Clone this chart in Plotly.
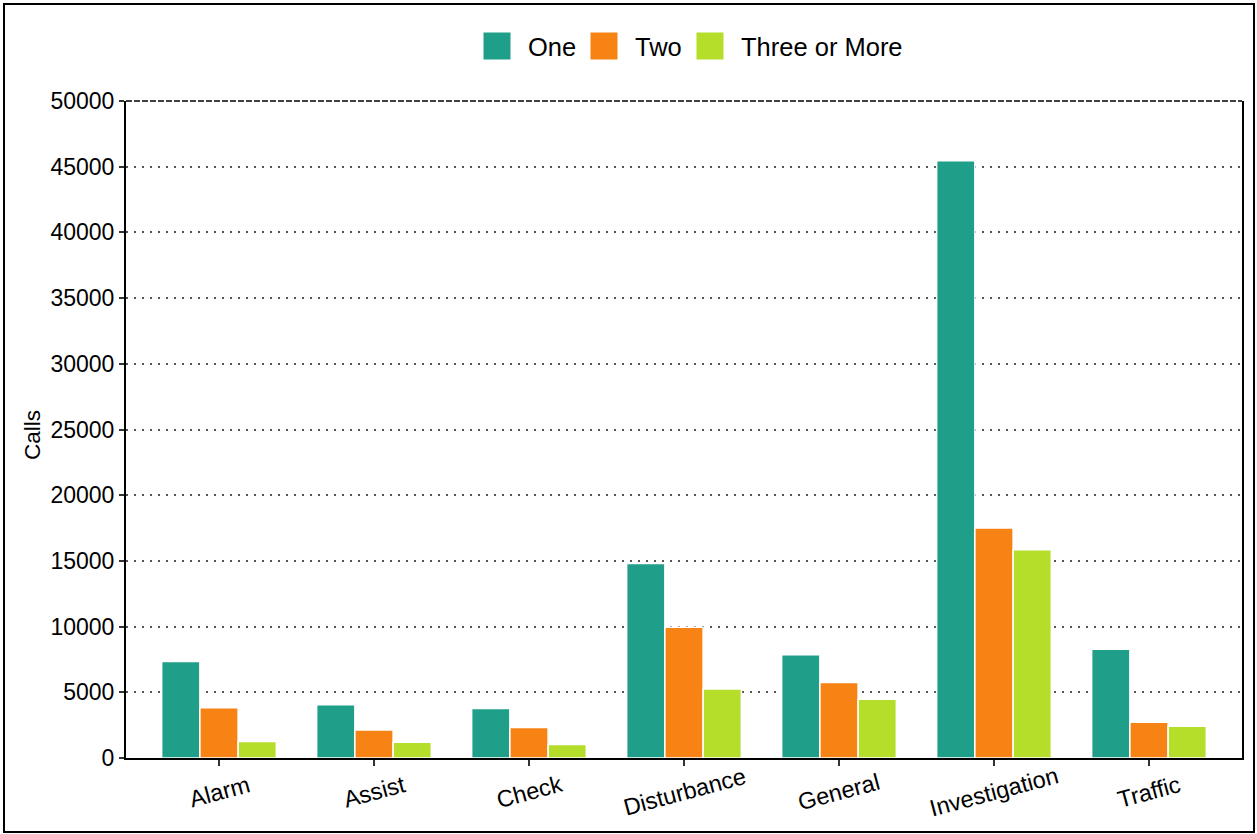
import plotly.graph_objects as go

categories = ["Alarm", "Assist", "Check", "Disturbance", "General", "Investigation", "Traffic"]
one = [7350, 4050, 3770, 14800, 7850, 45450, 8280]
two = [3830, 2140, 2320, 9950, 5750, 17500, 2720]
three = [1250, 1200, 1020, 5260, 4470, 15850, 2420]
series_names = ["One", "Two", "Three or More"]
colors = ["#1F9E89", "#F68314", "#B5DE2B"]
y_ticks = list(range(0, 50001, 5000))

W, H = 1257, 834
ml, mr, mt, mb = 126, 15, 101, 76
pw, ph = W - ml - mr, H - mt - mb


def px_x(p):
    return (p - ml) / pw


def px_y(p):
    return (mt + ph - p) / ph


fig = go.Figure()
for name, vals, col in zip(series_names, [one, two, three], colors):
    fig.add_trace(go.Bar(
        x=categories, y=vals, name=name, showlegend=False,
        marker=dict(color=col, line=dict(color="white", width=1.5)),
    ))

font = "Liberation Sans, Arial, sans-serif"
fig.update_layout(
    width=W, height=H,
    margin=dict(l=ml, r=mr, t=mt, b=mb, autoexpand=False),
    paper_bgcolor="white", plot_bgcolor="white",
    barmode="group", bargap=0.26, bargroupgap=0,
    font=dict(family=font, size=22, color="black"),
    showlegend=False,
    xaxis=dict(range=[-0.6, len(categories) - 0.4], showline=True, linecolor="black",
               linewidth=2, ticks="outside", ticklen=6, tickcolor="#333", tickwidth=2,
               showticklabels=False, showgrid=False, automargin=False),
    yaxis=dict(range=[0, 50000], tickvals=y_ticks, ticktext=[str(v) for v in y_ticks],
               showline=True, linecolor="black",
               linewidth=2, mirror=True, ticks="outside", ticklen=5, tickcolor="#333",
               tickwidth=2, showgrid=True, gridcolor="#555", griddash="2px,6px", gridwidth=1.5,
               zeroline=False, tickfont=dict(size=23, family=font), automargin=False),
)

# x tick labels, rotated and centred on the ticks
for cat in categories:
    fig.add_annotation(text=cat, xref="x", yref="paper", x=cat, y=px_y(792),
                       textangle=-15, showarrow=False, xanchor="center", yanchor="middle",
                       font=dict(size=23.5, family=font))

# y axis title
fig.add_annotation(text="Calls", xref="paper", yref="paper", x=px_x(32), y=px_y(435),
                   textangle=-90, showarrow=False, font=dict(size=22.5, family=font),
                   xanchor="center", yanchor="middle")

# dashed top frame
fig.add_shape(type="line", xref="paper", yref="paper", x0=0, x1=1, y0=1, y1=1,
              line=dict(color="black", width=1.5, dash="6px,2px"))

# legend (drawn manually for large square keys)
key_x0 = [483, 590, 696]
text_x0 = [526, 633, 739]
for name, col, kx, tx in zip(series_names, colors, key_x0, text_x0):
    fig.add_shape(type="rect", xref="paper", yref="paper",
                  x0=px_x(kx), x1=px_x(kx + 28), y0=px_y(60), y1=px_y(32),
                  line=dict(color="white", width=1), fillcolor=col)
    fig.add_annotation(text=name, xref="paper", yref="paper", x=px_x(tx), y=px_y(47),
                       xanchor="left", yanchor="middle", showarrow=False,
                       font=dict(size=25.5, family=font))

# outer figure border
fig.add_shape(type="rect", xref="paper", yref="paper",
              x0=px_x(4), x1=px_x(W - 3),
              y0=px_y(H - 2), y1=px_y(4),
              line=dict(color="black", width=2), fillcolor="rgba(0,0,0,0)", layer="above")

fig.write_html(
    "out.html",
    config={"displayModeBar": False},
    post_script="document.body.style.margin='0';document.body.style.overflow='hidden';",
)
